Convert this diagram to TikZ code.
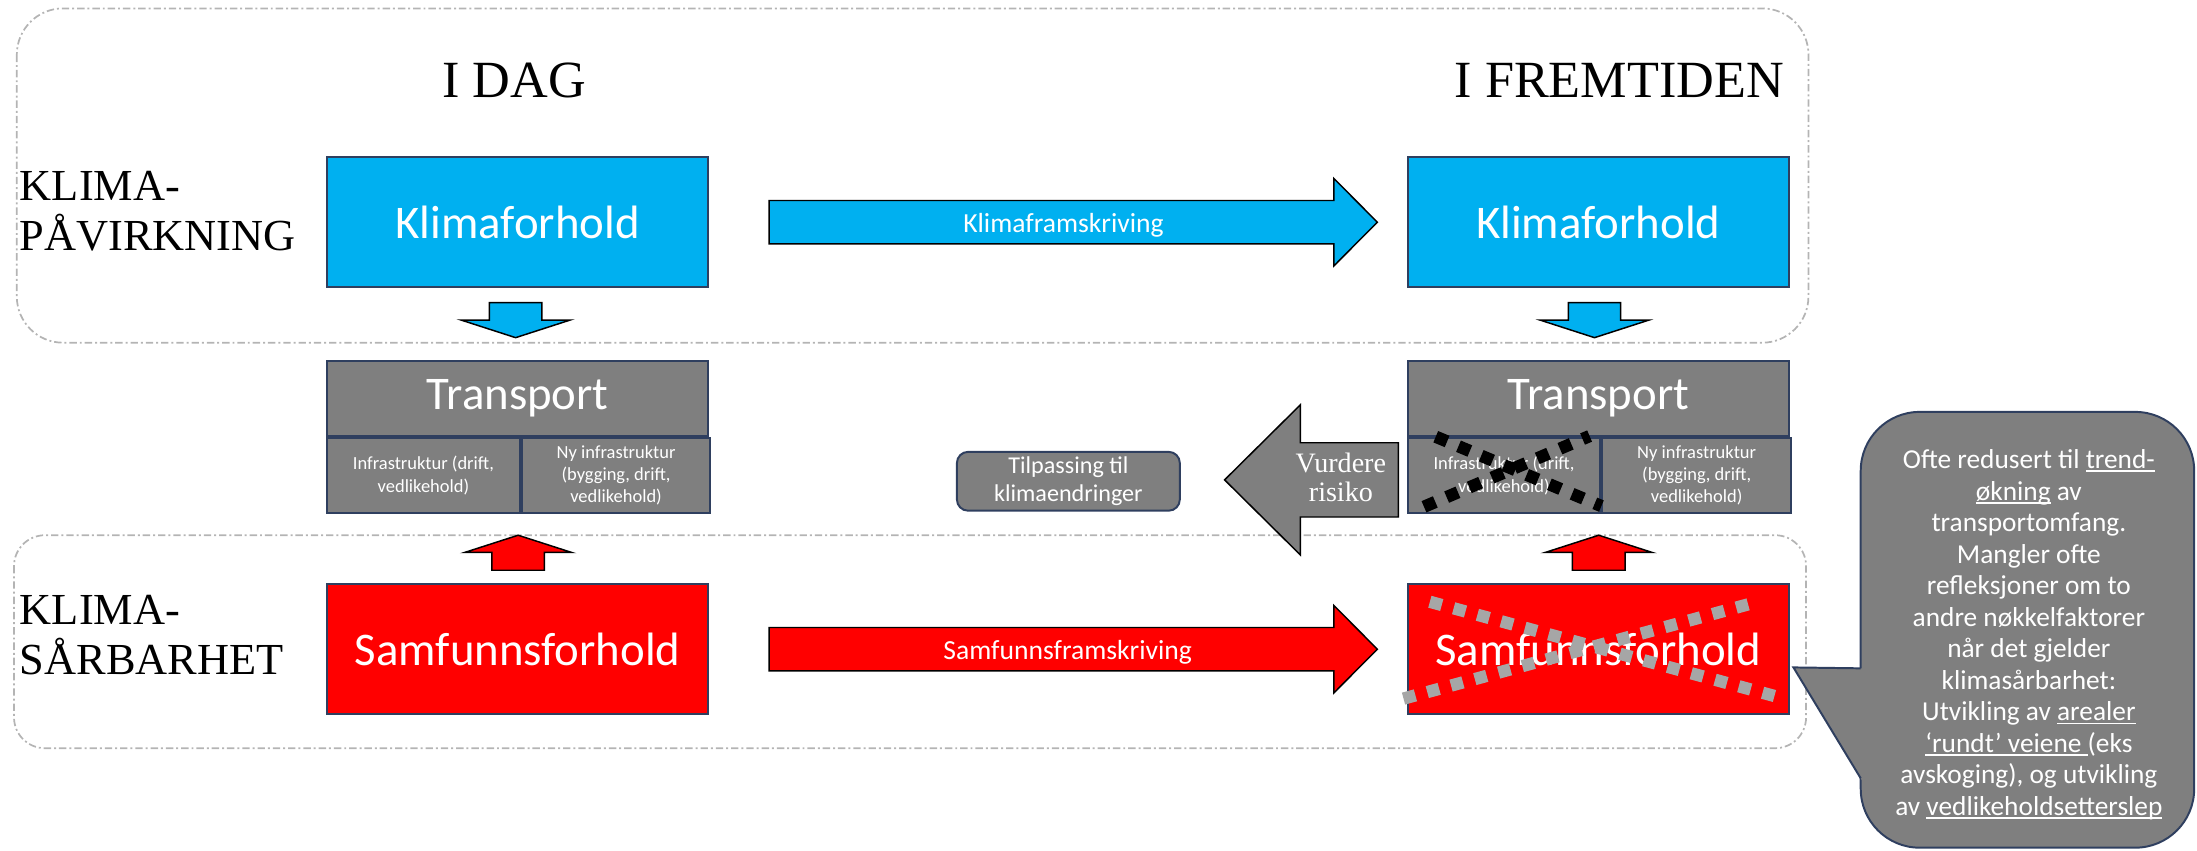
\documentclass[tikz,border=0pt]{standalone}
\usepackage{fontspec}
\setmainfont{Carlito}
\newfontfamily\serifskrift{Liberation Serif}
\usetikzlibrary{calc,positioning}

\definecolor{klimablaa}{HTML}{00B0F0}
\definecolor{samfrod}{HTML}{FF0000}
\definecolor{graa}{HTML}{7F7F7F}
\definecolor{kant}{HTML}{2F3F5F}
\definecolor{stiplet}{HTML}{B4B4B4}
\definecolor{lysgraa}{HTML}{A6A6A6}

\newcommand\strek[1]{\setbox0\hbox{#1}\rlap{\rule[-0.13em]{\wd0}{0.06em}}\box0{}}
% blokkpil: stil, hale, hodebase, spiss, midtlinje, halv skaft, halvt hode
\newcommand\hpil[7]{\draw[blokkpil, #1] (#2,#5-#6) -- (#3,#5-#6) -- (#3,#5-#7) -- (#4,#5) -- (#3,#5+#7) -- (#3,#5+#6) -- (#2,#5+#6) -- cycle;}
\newcommand\vpil[7]{\draw[blokkpil, #1] (#5-#6,#2) -- (#5-#6,#3) -- (#5-#7,#3) -- (#5,#4) -- (#5+#7,#3) -- (#5+#6,#3) -- (#5+#6,#2) -- cycle;}

\tikzset{
  boks/.style={draw=kant, line width=0.4pt, text=white, inner sep=0pt, minimum width=2.72cm},
  tittel/.style={font=\fontsize{9.5}{11}\selectfont},
  celle/.style={boks, fill=graa, minimum height=0.54cm, align=center, font=\fontsize{3.75}{4.5}\selectfont},
  omraade/.style={draw=stiplet, line width=0.35pt, dash pattern=on 1.5pt off 0.6pt on 0.4pt off 0.6pt},
  blokkpil/.style={draw=black, line width=0.3pt},
  pilnavn/.style={text=white, anchor=base, inner sep=0pt, font=\fontsize{5.6}{6.5}\selectfont},
  overskrift/.style={anchor=base, inner sep=0pt, font=\serifskrift\fontsize{10.6}{12}\selectfont},
  rad/.style={anchor=west, align=left, inner sep=0pt, font=\serifskrift\fontsize{9}{10.2}\selectfont},
  kryss/.style={line width=2.5pt, dash pattern=on 2.5pt off 2.5pt}
}

\begin{document}
\begin{tikzpicture}[x=0.01cm, y=-0.01cm]
\useasboundingbox (0,0) rectangle (1568,607);

\draw[omraade, rounded corners=0.33cm] (12,6) rectangle (1290.7,244.6);
\draw[omraade, rounded corners=0.22cm] (10,382) rectangle (1289,534);

\node[overskrift] (idag) at (367,69.5) {I DAG};
\node[overskrift] (fremtid) at (1155.7,69.5) {I FREMTIDEN};
\node[rad] (paavirk) at (13.5,150.5) {KLIMA-\\PÅVIRKNING};
\node[rad] (saarbar) at (13.5,453) {KLIMA-\\SÅRBARHET};

\node[boks, tittel, fill=klimablaa, minimum height=0.927cm] (klimaL) at (369.5,158.6) {Klimaforhold};
\node[boks, tittel, fill=klimablaa, minimum height=0.927cm] (klimaR) at (1140.7,158.6) {Klimaforhold};

\node[boks, tittel, fill=graa, minimum height=0.53cm] (transpL) at (369.5,284.5) {Transport};
\node[boks, tittel, fill=graa, minimum height=0.53cm] (transpR) at (1140.7,284.5) {Transport};
\node[celle, minimum width=1.375cm, anchor=north west] (infraL) at (transpL.south west) {Infrastruktur (drift,\\vedlikehold)};
\node[celle, minimum width=1.345cm, right=0cm of infraL] (nyinfraL) {Ny infrastruktur\\(bygging, drift,\\vedlikehold)};
\node[celle, minimum width=1.375cm, anchor=north west] (infraR) at (transpR.south west) {Infrastruktur (drift,\\vedlikehold)};
\node[celle, minimum width=1.345cm, right=0cm of infraR] (nyinfraR) {Ny infrastruktur\\(bygging, drift,\\vedlikehold)};

\node[boks, tittel, fill=samfrod, minimum height=0.929cm] (samfL) at (369.5,463.35) {Samfunnsforhold};
\node[boks, tittel, fill=samfrod, minimum height=0.929cm] (samfR) at (1140.7,463.35) {Samfunnsforhold};

\hpil{fill=klimablaa}{549}{952}{983}{158.6}{15.5}{31.2}
\node[pilnavn] (klimapil) at (759,166) {Klimaframskriving};
\hpil{fill=samfrod}{549}{952}{983}{463.35}{15.5}{31.2}
\node[pilnavn] (samfpil) at (762,471) {Samfunnsframskriving};

\vpil{fill=klimablaa}{216}{228.5}{241}{368}{18.7}{38.7}
\vpil{fill=klimablaa}{216}{228.5}{241}{1138}{18.7}{38.7}
\vpil{fill=samfrod}{407}{394.3}{382}{369.8}{18.8}{38.2}
\vpil{fill=samfrod}{407}{394.3}{382}{1141}{18.8}{38.2}

\hpil{fill=graa}{998}{928}{874}{342.5}{26.5}{53.5}
\node[text=white, align=center, inner sep=0pt, font=\serifskrift\fontsize{5.7}{5.9}\selectfont] (vurdere) at (957,341) {Vurdere\\risiko};

\node[fill=graa, draw=kant, line width=0.4pt, rounded corners=0.08cm, text=white, inner sep=0pt, minimum width=1.59cm, minimum height=0.42cm, align=center, font=\fontsize{4.9}{5.7}\selectfont] (tilpass) at (762.5,343.5) {Tilpassing til\\klimaendringer};

\draw[kryss, black] (1024.7,311.7) -- (1142.9,361.2);
\draw[kryss, black] (1016.3,361.7) -- (1134.5,311.2);
\draw[kryss, lysgraa] (1020.5,429.5) -- (1273.2,498.6);
\draw[kryss, lysgraa] (1001.7,498.6) -- (1254.4,429.5);

\coordinate (peker) at ($(samfR.east)+(2.5,13)$);
\filldraw[fill=graa, draw=kant, line width=0.4pt, rounded corners=0.42cm] (1328,294) rectangle (1566,605);
\fill[graa] (peker) -- (1328,477) -- (1331,477) -- (1331,560.4) -- (1328,555.5) -- cycle;
\draw[kant, line width=0.4pt] (1328,477) -- (peker) -- (1328,555.5);
\node[text=white, align=center, inner sep=0pt, font=\fontsize{5.55}{6.4}\selectfont] (snakk) at (1448,453) {Ofte redusert til \strek{trend-}\\
\strek{økning} av\\
transportomfang.\\
Mangler ofte\\
refleksjoner om to\\
andre nøkkelfaktorer\\
når det gjelder\\
klimasårbarhet:\\
Utvikling av \strek{arealer}\\
\strek{‘rundt’ veiene }(eks\\
avskoging), og utvikling\\
av \strek{vedlikeholdsetterslep}};
\end{tikzpicture}
\end{document}
